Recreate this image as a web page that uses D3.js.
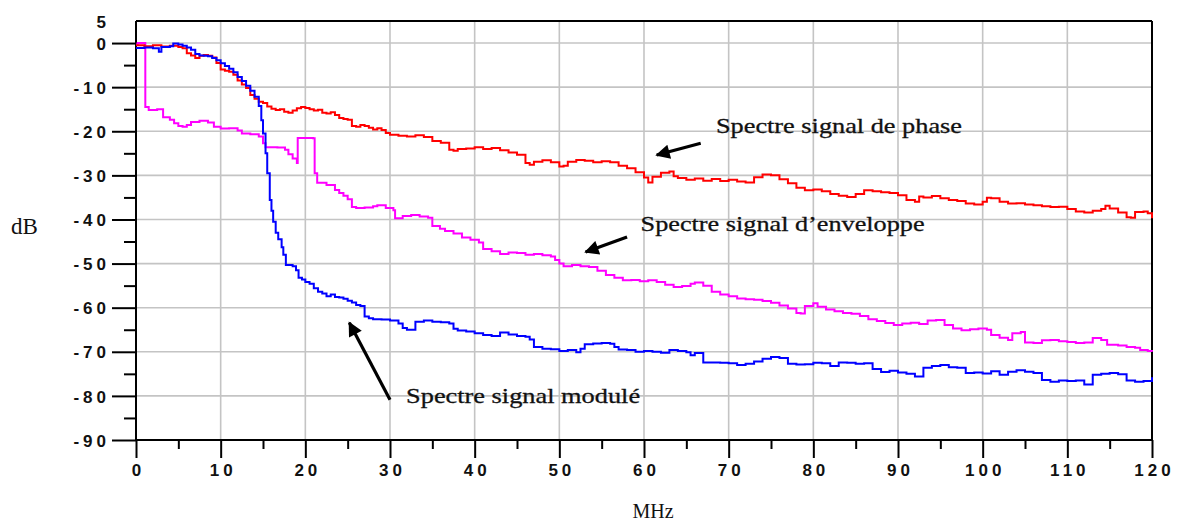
<!DOCTYPE html>
<html lang="fr">
<head>
<meta charset="UTF-8">
<title>Spectres</title>
<script src="https://d3js.org/d3.v7.min.js"></script>
<style>
  body { margin: 0; background: #fff; }
  .grid line { stroke: #c4c4c4; stroke-width: 1.6px; }
  .axis path, .axis line { stroke: #000; stroke-width: 2px; }
  .axis text { font-family: "Liberation Sans", Arial, sans-serif; font-weight: bold; font-size: 17px; letter-spacing: 4px; fill: #111; }
  .title { font-family: "Liberation Serif", "Times New Roman", serif; font-size: 21px; fill: #111; }
  .note { font-family: "Liberation Serif", "Times New Roman", serif; font-size: 22px; fill: #111; stroke: #111; stroke-width: 0.3px; }
  .curve { fill: none; stroke-width: 2px; }
</style>
</head>
<body>
<svg width="1180" height="523"></svg>
<script>
// frequency (MHz), level (dB)
const phase = [
  [0,-0.5],[1,-0.7],[2,-0.5],[3,-0.8],[4,-0.6],[5,-0.9],[5.5,-1.2],[6,-2.3],[6.5,-2.8],[7,-3.4],
  [7.5,-2.9],[8,-2.7],[8.5,-2.9],[9,-3.3],[9.5,-4.5],[10,-6.0],[10.5,-6.3],[11,-6.5],[11.5,-7.2],[12,-8.5],
  [12.5,-9.4],[13,-10.2],[13.5,-11.8],[14,-12.6],[14.5,-13.3],[15,-13.6],[15.5,-14.4],[16,-14.9],[16.5,-15.2],[17,-15.0],
  [17.5,-15.6],[18,-15.8],[18.5,-15.3],[19,-14.8],[19.5,-14.5],[20,-14.7],[20.5,-15.0],[21,-15.3],[21.5,-15.1],[22,-15.8],
  [22.5,-16.0],[23,-15.7],[23.5,-16.3],[24,-17.0],[24.5,-17.2],[25,-17.4],[25.5,-18.8],[26,-19.0],[26.5,-18.6],[27,-18.8],
  [27.5,-19.2],[28,-19.6],[28.5,-19.3],[29,-19.7],[29.5,-20.4],[30,-20.8],[31,-21.0],[32,-21.2],[33,-20.9],[34,-21.3],
  [35,-22.2],[36,-22.6],[37,-24.2],[37.5,-24.4],[38,-24.0],[39,-23.9],[40,-23.6],[41,-24.0],[42,-23.8],[43,-24.3],
  [44,-24.8],[45,-25.3],[46,-27.2],[46.5,-27.6],[47,-26.9],[48,-26.6],[49,-27.0],[50,-28.0],[50.5,-27.8],[51,-26.9],
  [52,-26.5],[53,-26.7],[54,-27.0],[55,-26.8],[56,-27.0],[57,-27.8],[58,-28.4],[59,-29.3],[60,-30.5],[60.5,-31.6],
  [61,-30.3],[62,-29.4],[63,-29.1],[63.5,-30.2],[64,-30.6],[65,-31.0],[66,-30.7],[67,-31.2],[68,-30.8],[69,-31.3],
  [70,-31.0],[71,-31.4],[72,-31.6],[73,-30.4],[74,-29.8],[75,-30.0],[76,-30.9],[77,-31.8],[78,-32.8],[79,-33.4],
  [80,-33.2],[81,-33.6],[82,-34.2],[83,-34.6],[84,-34.9],[85,-34.2],[86,-33.4],[87,-33.6],[88,-33.8],[89,-34.0],
  [90,-34.5],[91,-35.6],[92,-36.0],[92.5,-34.8],[93,-35.0],[94,-34.7],[95,-35.2],[96,-35.6],[97,-35.8],[98,-36.4],
  [99,-36.6],[100,-36.0],[100.5,-35.1],[101,-35.2],[102,-36.0],[103,-36.4],[104,-36.3],[105,-36.6],[106,-36.8],[107,-37.0],
  [108,-37.2],[109,-37.1],[110,-37.6],[111,-38.2],[112,-38.4],[113,-38.0],[114,-37.6],[114.5,-36.9],[115,-37.5],[116,-38.4],
  [117,-39.5],[117.5,-39.6],[118,-38.3],[119,-38.2],[119.5,-38.6],[120,-39.7]
];

const enveloppe = [
  [0,-0.3],[0.2,0],[1.1,-14.5],[1.5,-15.2],[2.5,-15.0],[3.2,-16.8],[4,-17.4],[4.5,-18.2],[5,-18.8],[5.5,-19.0],
  [6,-18.6],[6.5,-17.9],[7.5,-17.6],[8.5,-18.0],[9.2,-19.0],[10,-19.4],[11,-19.3],[12,-19.8],[12.5,-20.5],[13.5,-20.7],
  [14.5,-21.2],[15,-22.7],[15.3,-23.6],[16.7,-23.7],[17.6,-24.2],[18,-25.2],[18.5,-26.2],[19,-27.2],[19.1,-21.5],[20.9,-21.6],
  [21.1,-29.5],[21.4,-31.7],[22.5,-32.2],[23.5,-33.3],[24,-34.0],[24.5,-34.6],[25,-35.4],[25.5,-37.2],[26,-37.4],[27,-37.3],
  [28,-37.0],[28.5,-36.8],[29.5,-37.4],[30.4,-37.9],[30.6,-39.7],[31.5,-39.2],[32.5,-39.0],[33.5,-39.3],[34.5,-39.6],[35,-41.5],
  [35.9,-42.1],[36.5,-42.6],[37.5,-43.2],[38.5,-44.1],[39.5,-44.6],[40.5,-45.2],[41,-46.7],[42,-47.2],[43,-47.8],[44,-47.5],
  [45,-47.6],[46,-48.0],[47,-47.8],[48,-48.1],[49,-48.4],[49.5,-49.2],[50,-50.0],[50.5,-50.6],[51.5,-50.3],[52.5,-50.6],
  [53.5,-50.8],[54.5,-51.6],[55.5,-52.6],[56.5,-53.2],[57.5,-53.8],[58.5,-53.7],[59.5,-54.0],[60.5,-53.8],[61.5,-54.2],[62.5,-54.8],
  [63.5,-55.3],[64.5,-55.1],[65.5,-54.6],[66,-54.3],[67,-55.0],[68,-56.4],[69,-57.0],[70,-57.4],[71,-57.9],[72,-58.1],
  [73,-58.2],[74,-58.5],[75,-58.9],[76,-59.5],[77,-60.2],[78,-61.2],[78.5,-61.3],[79,-59.6],[80,-59.0],[80.5,-59.8],
  [81.5,-60.4],[82.5,-60.8],[83.5,-61.2],[84.5,-61.4],[85.5,-61.9],[86.5,-62.6],[87.5,-63.0],[88.5,-63.5],[89.5,-63.9],[90.5,-63.6],
  [91.5,-63.4],[92.5,-63.7],[93.5,-62.9],[94.5,-62.8],[95.5,-63.9],[96.5,-64.7],[97.5,-65.1],[98.5,-64.9],[99.5,-64.7],[100.5,-65.0],
  [101,-66.2],[102,-66.8],[103,-67.3],[103.5,-65.8],[104.5,-65.5],[105,-67.9],[106,-68.0],[107,-67.4],[108,-67.3],[109,-67.6],
  [110,-67.8],[111,-68.0],[112,-67.9],[113,-66.9],[114,-67.3],[114.7,-68.4],[116,-68.6],[117,-68.9],[118,-69.1],[118.6,-69.6],
  [119.5,-69.8],[120,-70.0]
];

const modulated = [
  [0,-1.1],[1,-1.0],[2,-1.2],[2.7,-2.0],[3,-0.9],[4,-0.7],[4.4,-0.1],[5,-0.3],[5.5,-0.6],[6,-1.0],
  [6.5,-1.5],[7,-2.5],[7.5,-2.8],[8,-2.9],[8.5,-3.0],[9,-3.4],[9.5,-3.9],[10,-4.6],[10.5,-5.2],[11,-5.8],
  [11.5,-6.6],[12,-7.7],[12.5,-8.6],[13,-9.7],[13.5,-10.8],[14,-12.2],[14.5,-14.3],[14.8,-17.5],[15,-20.5],[15.3,-25],
  [15.5,-29.5],[15.8,-35.6],[16,-38],[16.2,-40.5],[16.5,-43],[16.8,-44.5],[17.2,-46.3],[17.4,-48],[17.7,-50.3],[18.5,-50.6],
  [18.9,-51.5],[19.2,-53.2],[19.6,-53.6],[20,-54.2],[20.5,-54.6],[21,-55.6],[21.5,-56.4],[22,-56.8],[22.5,-57.4],[23,-57.0],
  [23.5,-57.6],[24,-57.7],[24.5,-58.0],[25,-58.4],[25.5,-58.8],[26,-59.4],[26.5,-59.6],[27,-62.0],[27.5,-62.4],[28,-62.6],
  [29,-62.7],[30,-62.9],[31,-63.6],[31.5,-64.6],[32,-65.0],[33,-63.2],[34,-62.9],[35,-63.2],[36,-63.3],[37,-63.6],
  [37.5,-64.8],[38,-65.2],[39,-65.4],[40,-65.8],[41,-66.2],[42,-66.4],[43,-65.6],[44,-66.1],[45,-66.4],[46,-66.6],
  [46.5,-67.2],[47,-68.9],[48,-69.3],[49,-69.4],[50,-69.8],[51,-69.6],[52,-70.1],[52.5,-69.3],[53,-68.3],[54,-68.1],
  [55,-68.0],[56,-68.2],[56.5,-68.9],[57,-69.5],[58,-69.6],[59,-70.0],[60,-69.8],[61,-70.0],[62,-70.2],[63,-69.6],
  [64,-69.8],[65,-70.1],[65.5,-70.8],[66,-70.3],[67,-72.4],[68,-72.4],[69,-72.5],[70,-72.6],[71,-73.0],[72,-72.7],
  [73,-72.2],[74,-71.6],[75,-71.2],[76,-71.4],[77,-72.7],[78,-72.9],[79,-72.8],[80,-72.5],[81,-72.6],[82,-73.2],
  [83,-72.4],[84,-72.5],[85,-72.7],[86,-72.6],[87,-73.9],[88,-74.6],[89,-74.3],[90,-74.7],[91,-75.0],[92,-75.6],
  [93,-73.6],[94,-73.2],[95,-73.0],[96,-73.5],[97,-73.6],[98,-74.8],[99,-74.7],[100,-74.9],[101,-74.4],[102,-75.2],
  [103,-74.5],[104,-74.2],[105,-74.5],[106,-74.8],[107,-76.4],[108,-76.8],[109,-76.5],[110,-76.6],[111,-76.5],[112,-77.4],
  [113,-75.2],[114,-75.0],[115,-74.8],[116,-75.1],[117,-76.5],[118,-76.8],[119,-76.6],[120,-75.8]
];

const xTicks = [0, 10, 20, 30, 40, 50, 60, 70, 80, 90, 100, 110, 120];
const xMinor = [5, 15, 25, 35, 45, 55, 65, 75, 85, 95, 105, 115];
const yTicks = [5, 0, -10, -20, -30, -40, -50, -60, -70, -80, -90];
const yMinor = [-5, -15, -25, -35, -45, -55, -65, -75, -85];

// annotation text: [label, freq, dB, width px] and arrows [fromF, fromDb, toF, toDb]
const notes = [
  ["Spectre signal de phase", 68.5, -20.4, 246],
  ["Spectre signal d\u2019enveloppe", 59.6, -42.7, 284],
  ["Spectre signal modulé", 31.9, -81.7, 234]
];
const arrows = [
  [66.7, -22.7, 61.5, -25.4],
  [58.0, -44.0, 53.1, -47.4],
  [30.0, -80.9, 25.2, -63.4]
];

const svg = d3.select("svg");
const pLeft = 136, pRight = 1152, pTop = 21, pBottom = 440;

const x = d3.scaleLinear().domain([0, 120]).range([pLeft, pRight]);
const y = d3.scaleLinear().domain([-90, 5]).range([pBottom, pTop]);

// grid
const grid = svg.append("g").attr("class", "grid");
grid.selectAll(".gx").data(xTicks.filter(d => d > 0 && d < 120)).enter().append("line")
  .attr("x1", d => x(d)).attr("x2", d => x(d)).attr("y1", pTop).attr("y2", pBottom);
grid.selectAll(".gy").data(yTicks.filter(d => d > -90 && d < 5)).enter().append("line")
  .attr("x1", pLeft).attr("x2", pRight).attr("y1", d => y(d)).attr("y2", d => y(d));

// frame top / right
svg.append("line").attr("x1", pLeft).attr("x2", pRight).attr("y1", pTop).attr("y2", pTop)
  .attr("stroke", "#000").attr("stroke-width", 2);
svg.append("line").attr("x1", pRight).attr("x2", pRight).attr("y1", pTop).attr("y2", pBottom)
  .attr("stroke", "#000").attr("stroke-width", 2);

// y axis
const yAxis = svg.append("g").attr("class", "axis").attr("transform", `translate(${pLeft},0)`)
  .call(d3.axisLeft(y).tickValues(yTicks).tickSize(24).tickPadding(2).tickFormat(d => String(d)));
yAxis.selectAll(".tick").filter(d => d === 5).select("line").remove();
yAxis.selectAll(".tick text").attr("dy", "0.36em");
svg.append("g").attr("class", "axis").attr("transform", `translate(${pLeft},0)`)
  .call(d3.axisLeft(y).tickValues(yMinor).tickSize(12).tickFormat(""))
  .select(".domain").remove();

// x axis
const xAxis = svg.append("g").attr("class", "axis").attr("transform", `translate(0,${pBottom})`)
  .call(d3.axisBottom(x).tickValues(xTicks).tickSize(18).tickPadding(6).tickFormat(d => String(d)));
xAxis.selectAll(".tick text").attr("dx", 2);
svg.append("g").attr("class", "axis").attr("transform", `translate(0,${pBottom})`)
  .call(d3.axisBottom(x).tickValues(xMinor).tickSize(9).tickFormat(""))
  .select(".domain").remove();
svg.selectAll(".axis .domain").remove();
svg.append("line").attr("x1", pLeft).attr("x2", pLeft).attr("y1", pTop).attr("y2", pBottom + 1)
  .attr("stroke", "#000").attr("stroke-width", 2);
svg.append("line").attr("x1", pLeft - 1).attr("x2", pRight + 1).attr("y1", pBottom).attr("y2", pBottom)
  .attr("stroke", "#000").attr("stroke-width", 2);

// axis titles
svg.append("text").attr("class", "title").attr("x", 653).attr("y", 518)
  .attr("text-anchor", "middle").style("font-size", "20px").text("MHz");
svg.append("text").attr("class", "title").attr("x", 11).attr("y", 234).style("font-size", "23px").text("dB");

// curves
const line = d3.line().x(d => x(d[0])).y(d => y(d[1])).curve(d3.curveStepAfter);
svg.append("path").datum(enveloppe).attr("class", "curve").attr("stroke", "#ff00ff").attr("d", line);
svg.append("path").datum(phase).attr("class", "curve").attr("stroke", "#ff0000").attr("d", line);
svg.append("path").datum(modulated).attr("class", "curve").attr("stroke", "#0000ff").attr("d", line);

// annotations
svg.selectAll(".note").data(notes).enter().append("text").attr("class", "note")
  .attr("x", d => x(d[1])).attr("y", d => y(d[2]))
  .attr("textLength", d => d[3]).attr("lengthAdjust", "spacingAndGlyphs")
  .text(d => d[0]);

svg.append("defs").append("marker").attr("id", "head")
  .attr("viewBox", "0 0 10 10").attr("refX", 9).attr("refY", 5)
  .attr("markerWidth", 5).attr("markerHeight", 4.5).attr("orient", "auto")
  .attr("markerUnits", "strokeWidth")
  .append("path").attr("d", "M0,0L10,5L0,10z").attr("fill", "#000");
svg.selectAll(".arrow").data(arrows).enter().append("line").attr("class", "arrow")
  .attr("x1", d => x(d[0])).attr("y1", d => y(d[1]))
  .attr("x2", d => x(d[2])).attr("y2", d => y(d[3]))
  .attr("stroke", "#000").attr("stroke-width", 3.2).attr("marker-end", "url(#head)");
</script>
</body>
</html>
